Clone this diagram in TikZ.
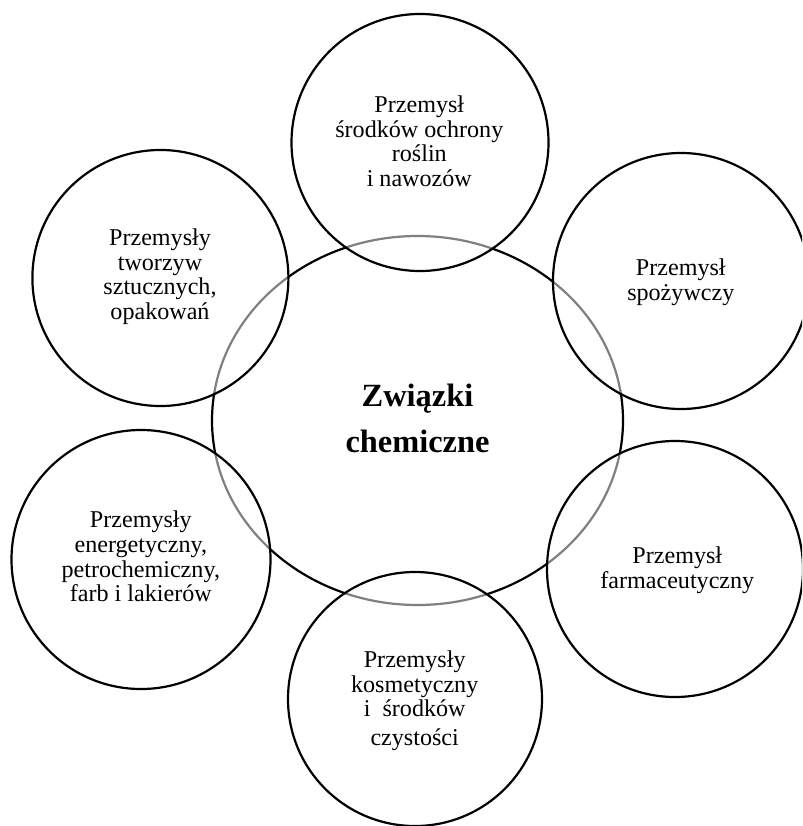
\documentclass[tikz,border=0pt]{standalone}
\usepackage{fontspec}
\setmainfont{Liberation Serif}
\begin{document}
\begin{tikzpicture}[x=1pt,y=-1pt,
  ring/.style={circle,draw=black,line width=2.2pt,fill=white,fill opacity=0.5,inner sep=0pt},
  lbl/.style={align=center,anchor=base,inner sep=0pt,font=\fontsize{24.1}{24.7}\selectfont},
  hublbl/.style={align=center,anchor=base,inner sep=0pt,font=\fontsize{32.4}{46}\selectfont\bfseries}]
\useasboundingbox (0,0) rectangle (802,826);
\clip (0,0) rectangle (802,826);
\draw[black,line width=2.2pt] (417.5,420.5) ellipse [x radius=205.5, y radius=184.5];
\coordinate (hubc) at (417.5,420.5);
\node[ring,minimum size=257pt] (ctop) at (420,142.5) {};
\node[ring,minimum size=256pt] (ctl) at (160.4,278) {};
\node[ring,minimum size=256pt] (ctr) at (681,281) {};
\node[ring,minimum size=259pt] (cbl) at (141,559.5) {};
\node[ring,minimum size=256pt] (cbr) at (675,569) {};
\node[ring,minimum size=254pt] (cbot) at (415,699) {};
\node[hublbl] (thub) at (417.5,452.7) {Związki\\chemiczne};
\node[lbl] (ttop) at (419.3,186.7) {Przemysł\\środków ochrony\\roślin\\i nawozów};
\node[lbl] (ttl) at (160,319.5) {Przemysły\\tworzyw\\sztucznych,\\opakowań};
\node[lbl] (ttr) at (680.8,300) {Przemysł\\spożywczy};
\node[lbl] (tbl) at (140.8,601.7) {Przemysły\\energetyczny,\\petrochemiczny,\\farb i lakierów};
\node[lbl] (tbr) at (677.3,588.3) {Przemysł\\farmaceutyczny};
\node[lbl] (tbot) at (414.7,745) {Przemysły\\kosmetyczny\\i\ \ środków\\[3.6pt]czystości};
\end{tikzpicture}
\end{document}
